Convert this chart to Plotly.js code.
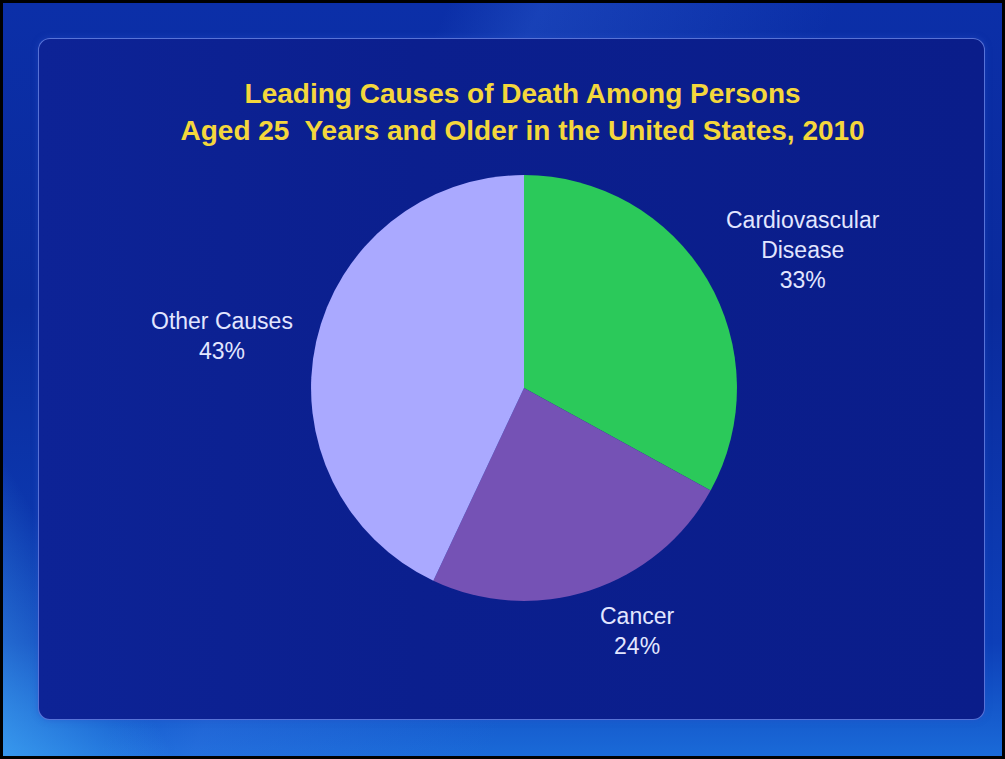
<!DOCTYPE html>
<html>
<head>
<meta charset="utf-8">
<script src="https://cdn.plot.ly/plotly-3.0.1.min.js"></script>
<style>
  html, body { margin: 0; padding: 0; width: 1005px; height: 759px; overflow: hidden; background: #000; }
  #bg {
    position: absolute; left: 3px; top: 3px; width: 999px; height: 753px;
    background:
      linear-gradient(115deg, rgba(255,255,255,0) 0%, rgba(255,255,255,0) 33%, rgba(70,130,240,0.22) 40%, rgba(70,130,240,0.0) 62%),
      linear-gradient(180deg, #0b2fa8 0%, #0a2a9c 40%, #0d3fb8 85%, #1a6ad8 100%);
  }
  #streak {
    position: absolute; left: 3px; top: 3px; width: 999px; height: 753px;
    background: linear-gradient(60deg, rgba(80,190,255,0.55) 0%, rgba(80,190,255,0.0) 12%);
  }
  #panel {
    position: absolute; left: 38px; top: 38px; width: 945px; height: 680px;
    border-radius: 12px;
    border: 1px solid rgba(120,150,245,0.7);
    background: linear-gradient(90deg, #0d2396 0%, #0b1f8e 40%, #0a1d8a 100%);
    box-shadow: 0 0 6px rgba(40,80,200,0.5);
  }
  #chart { position: absolute; left: 0; top: 0; width: 1005px; height: 759px; }
</style>
</head>
<body>
<div id="bg"></div>
<div id="streak"></div>
<div id="panel"></div>
<div id="chart"></div>
<script>
  // Data
  var categories = ['Cardiovascular Disease', 'Cancer', 'Other Causes'];
  var labelLines = ['Cardiovascular<br>Disease', 'Cancer', 'Other Causes'];
  var percents = [33, 24, 43];
  var colors = ['#2bc95a', '#7552b5', '#aaa9ff'];

  var labelPos = [
    {x: 0.799, y: 0.670},
    {x: 0.634, y: 0.168},
    {x: 0.221, y: 0.557}
  ];

  var annotations = categories.map(function (c, i) {
    return {
      text: labelLines[i] + '<br>' + percents[i] + '%',
      x: labelPos[i].x, y: labelPos[i].y,
      xref: 'paper', yref: 'paper',
      xanchor: 'center', yanchor: 'middle',
      showarrow: false,
      align: 'center',
      font: {family: 'Liberation Sans, Arial, sans-serif', size: 23, color: '#e2e6ff'}
    };
  });

  var trace = {
    type: 'pie',
    labels: categories,
    values: percents,
    sort: false,
    direction: 'clockwise',
    rotation: 0,
    marker: {colors: colors, line: {width: 0}},
    textinfo: 'none',
    hoverinfo: 'label+percent',
    showlegend: false,
    domain: {x: [0.3095, 0.7333], y: [0.2082, 0.7694]}
  };

  var layout = {
    width: 1005, height: 759,
    margin: {l: 0, r: 0, t: 0, b: 0},
    paper_bgcolor: 'rgba(0,0,0,0)',
    plot_bgcolor: 'rgba(0,0,0,0)',
    showlegend: false,
    title: {
      text: '<b>Leading Causes of Death Among Persons<br>Aged 25  Years and Older in the United States, 2010</b>',
      x: 0.52, xanchor: 'center',
      y: 0.864, yanchor: 'middle',
      font: {family: 'Liberation Sans, Arial, sans-serif', size: 28, color: '#f4d73c'}
    },
    annotations: annotations
  };

  Plotly.newPlot('chart', [trace], layout, {displayModeBar: false, staticPlot: true});
</script>
</body>
</html>
